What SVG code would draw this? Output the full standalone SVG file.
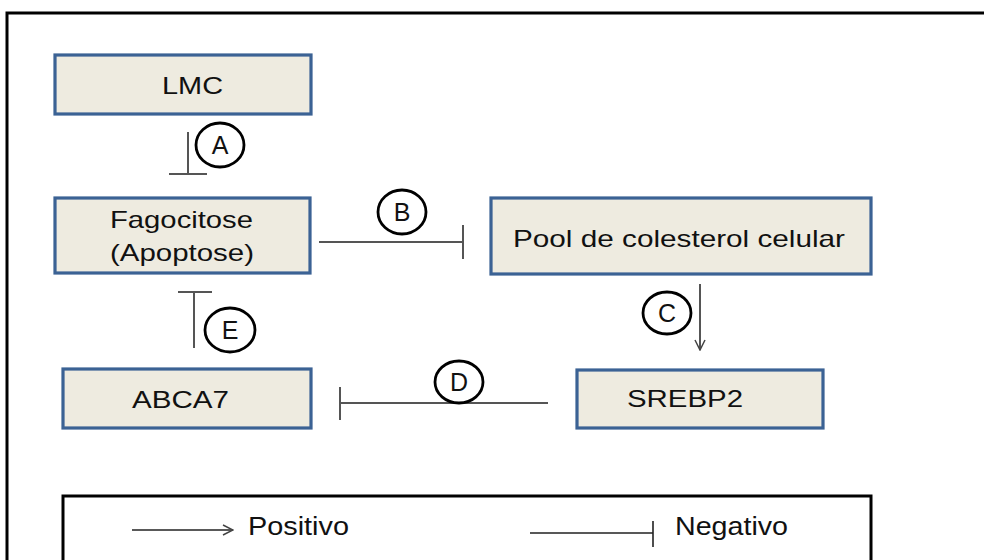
<svg xmlns="http://www.w3.org/2000/svg" width="984" height="560" viewBox="0 0 984 560">
<defs>
<style>
.box{fill:#EEEBE0;stroke:#3B6294;stroke-width:3.2}
.t{font-family:"Liberation Sans",Arial,sans-serif;font-size:24px;fill:#111}
.lg{font-family:"Liberation Sans",Arial,sans-serif;font-size:26px;fill:#111}
.ln{stroke:#555;stroke-width:2;fill:none}
.lk{stroke:#222;stroke-width:1.6;fill:none}
.cir{fill:#fff;stroke:#000;stroke-width:2.8}
.cl{font-family:"Liberation Sans",Arial,sans-serif;font-size:25px;fill:#111;text-anchor:middle}
</style>
<marker id="arr" viewBox="0 0 12 12" refX="11" refY="6" markerWidth="12" markerHeight="12" markerUnits="userSpaceOnUse" orient="auto">
<path d="M1,1 L11,6 L1,11" fill="none" stroke="#444" stroke-width="1.5"/>
</marker>
</defs>
<rect x="0" y="0" width="984" height="560" fill="#fff"/>
<rect x="7" y="13" width="990" height="560" fill="none" stroke="#000" stroke-width="3"/>

<g id="LMC">
<rect class="box" x="55" y="55" width="256" height="59"/>
<text class="t" x="162" y="94" textLength="61" lengthAdjust="spacingAndGlyphs">LMC</text>
</g>
<g id="Fagocitose">
<rect class="box" x="55" y="198" width="255" height="75"/>
<text class="t" x="110" y="228" textLength="143" lengthAdjust="spacingAndGlyphs">Fagocitose</text>
<text class="t" x="110" y="261" textLength="144" lengthAdjust="spacingAndGlyphs">(Apoptose)</text>
</g>
<g id="Pool">
<rect class="box" x="491" y="198" width="380" height="76"/>
<text class="t" x="513" y="247" textLength="332" lengthAdjust="spacingAndGlyphs">Pool de colesterol celular</text>
</g>
<g id="SREBP2">
<rect class="box" x="577" y="370" width="246" height="58"/>
<text class="t" x="627" y="407" textLength="116" lengthAdjust="spacingAndGlyphs">SREBP2</text>
</g>
<g id="ABCA7">
<rect class="box" x="63" y="369" width="248" height="59"/>
<text class="t" x="132" y="408" textLength="97" lengthAdjust="spacingAndGlyphs">ABCA7</text>
</g>

<g id="connectors">
<path class="ln" d="M188,132 V174 M169,174 H207"/>
<path class="ln" d="M319,242 H463 M463,225 V259"/>
<path class="ln" d="M700,284 V350" marker-end="url(#arr)"/>
<path class="ln" d="M548,403 H340 M340,387 V420"/>
<path class="ln" d="M194,348 V292 M178,292 H212"/>
</g>

<g id="labels">
<ellipse class="cir" cx="220" cy="145" rx="24" ry="22"/>
<text class="cl" x="220" y="154">A</text>
<ellipse class="cir" cx="402" cy="212" rx="24" ry="22"/>
<text class="cl" x="402" y="221">B</text>
<ellipse class="cir" cx="667" cy="313" rx="24" ry="21"/>
<text class="cl" x="667" y="322">C</text>
<ellipse class="cir" cx="459" cy="382" rx="24" ry="21"/>
<text class="cl" x="459" y="391">D</text>
<ellipse class="cir" cx="230" cy="330" rx="25" ry="22"/>
<text class="cl" x="230" y="339">E</text>
</g>

<g id="legend">
<rect x="63" y="496" width="808" height="80" fill="none" stroke="#000" stroke-width="3"/>
<path class="lk" d="M132,530 H233" marker-end="url(#arr)"/>
<text class="lg" x="248" y="535" textLength="101" lengthAdjust="spacingAndGlyphs">Positivo</text>
<path class="lk" d="M530,533 H653 M653,521 V547"/>
<text class="lg" x="675" y="535" textLength="113" lengthAdjust="spacingAndGlyphs">Negativo</text>
</g>
</svg>
